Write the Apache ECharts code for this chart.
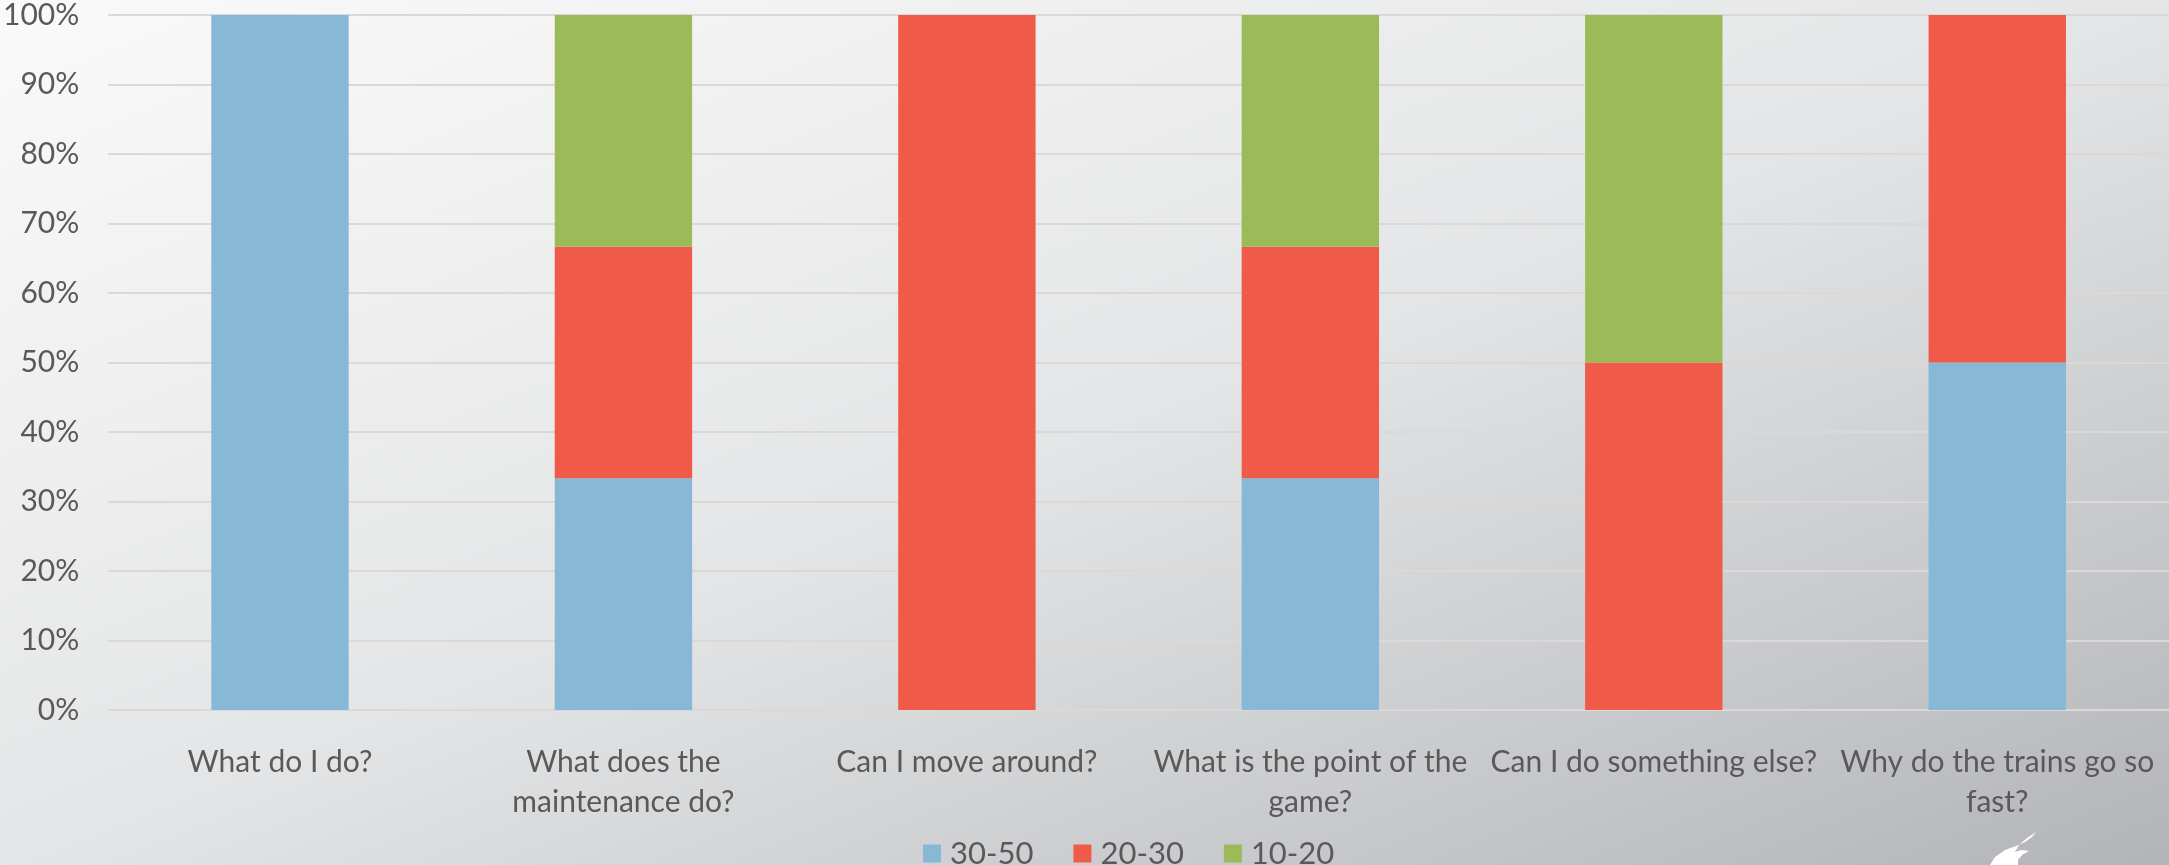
<!DOCTYPE html>
<html>
<head>
<meta charset="utf-8">
<script src="https://cdn.jsdelivr.net/npm/echarts@6/dist/echarts.min.js"></script>
<style>
html,body{margin:0;padding:0;}
#chart{width:2169px;height:865px;}
</style>
</head>
<body>
<div id="chart"></div>
<script>
const categories = [
  "What do I do?",
  "What does the\nmaintenance do?",
  "Can I move around?",
  "What is the point of the\ngame?",
  "Can I do something else?",
  "Why do the trains go so\nfast?"
];
const seriesNames = ["30-50", "20-30", "10-20"];
const values3050 = [100, 33.33, 0, 33.33, 0, 50];
const values2030 = [0, 33.33, 100, 33.33, 50, 50];
const values1020 = [0, 33.34, 0, 33.34, 50, 0];
const yTicks = [0, 10, 20, 30, 40, 50, 60, 70, 80, 90, 100];

const colors = ["#87b9d7", "#f05a48", "#9bbb59"];
const FONT = "Lato";
const textColor = "#595959";

const W = 2169, H = 865;
const s = 2 * W * H / (W * W + H * H);

const chart = echarts.init(document.getElementById('chart'), null, {renderer: 'canvas'});
const dataSets = [values3050, values2030, values1020];
chart.setOption({
  animation: false,
  backgroundColor: new echarts.graphic.LinearGradient(0, 0, s * H, s * W, [
    {offset: 0, color: '#fafafa'},
    {offset: 0.5, color: '#e4e5e6'},
    {offset: 1, color: '#b3b4b8'}
  ], true),
  color: colors,
  textStyle: {fontFamily: FONT},
  grid: {left: 108, right: 0, top: 15, bottom: 155, containLabel: false},
  legend: {
    top: 838,
    left: 923,
    padding: 0,
    itemWidth: 18,
    itemHeight: 18,
    itemGap: 40,
    icon: 'rect',
    textStyle: {fontFamily: FONT, fontSize: 31, color: textColor, padding: [0, 0, 0, 4]},
    data: seriesNames
  },
  xAxis: {
    type: 'category',
    data: categories,
    axisLine: {show: false},
    axisTick: {show: false},
    axisLabel: {
      interval: 0,
      margin: 32,
      fontFamily: FONT,
      fontSize: 30,
      lineHeight: 40,
      color: textColor,
      align: 'center'
    }
  },
  yAxis: {
    type: 'value',
    min: yTicks[0],
    max: yTicks[yTicks.length - 1],
    interval: yTicks[1] - yTicks[0],
    axisLine: {show: false},
    axisTick: {show: false},
    splitLine: {lineStyle: {color: '#d9d9d9', width: 2}},
    axisLabel: {
      margin: 29,
      fontFamily: FONT,
      fontSize: 30,
      color: textColor,
      formatter: v => v + '%'
    }
  },
  series: seriesNames.map((name, i) => ({
    name: name,
    type: 'bar',
    stack: 'total',
    barWidth: '40%',
    data: dataSets[i],
    itemStyle: {color: colors[i]}
  })),
  graphic: [{
    type: 'polygon',
    shape: {
      points: [[2036, 832], [2027, 838], [2019, 845], [2015, 852], [2021, 850], [2029, 851], [2022, 855], [2018, 860], [2018, 865], [1990, 865], [1995, 857], [2005, 850], [2016, 846], [2025, 842], [2032, 837]]
    },
    style: {fill: '#ffffff'}
  }]
});
</script>
</body>
</html>
